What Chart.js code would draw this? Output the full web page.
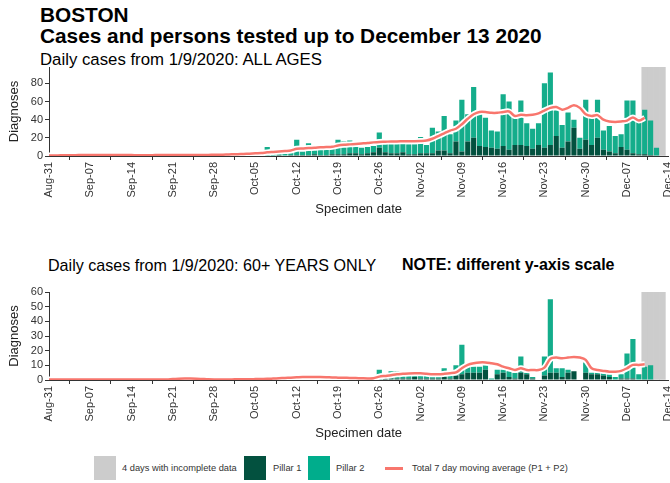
<!DOCTYPE html>
<html>
<head>
<meta charset="utf-8">
<script src="https://cdn.jsdelivr.net/npm/chart.js@4.4.0/dist/chart.umd.min.js"></script>
<style>
  body { margin: 0; width: 670px; height: 483px; overflow: hidden; background: #fff; position: relative;
         font-family: "Liberation Sans", Arial, sans-serif; }
  .t { position: absolute; white-space: nowrap; color: #000; line-height: 1; }
  canvas { position: absolute; left: 0; }
  .sw { position: absolute; }
  .lt { position: absolute; font-size: 9.3px; color: #333; line-height: 1; white-space: nowrap; }
</style>
</head>
<body>
<div class="t" style="left:40px;top:5px;font-size:20.8px;font-weight:bold">BOSTON</div>
<div class="t" style="left:40px;top:25.5px;font-size:20.8px;font-weight:bold">Cases and persons tested up to December 13 2020</div>
<div class="t" style="left:40px;top:51.5px;font-size:16.8px">Daily cases from 1/9/2020: ALL AGES</div>
<canvas id="allAges" width="670" height="158" style="top:62px"></canvas>

<div class="t" style="left:48px;top:256.5px;font-size:16.1px">Daily cases from 1/9/2020: 60+ YEARS ONLY</div>
<div class="t" style="left:402px;top:256.5px;font-size:16px;font-weight:bold">NOTE: different y-axis scale</div>
<canvas id="over60" width="670" height="157" style="top:287px"></canvas>

<div class="sw" style="left:94px;top:456px;width:22px;height:24px;background:#cccccc"></div>
<div class="lt" style="left:122px;top:463.5px">4 days with incomplete data</div>
<div class="sw" style="left:244px;top:456px;width:22px;height:24px;background:#03513f"></div>
<div class="lt" style="left:273px;top:463.5px">Pillar 1</div>
<div class="sw" style="left:308px;top:456px;width:22px;height:24px;background:#00ad8c"></div>
<div class="lt" style="left:336px;top:463.5px">Pillar 2</div>
<div class="sw" style="left:385px;top:467px;width:18px;height:2.5px;background:#f8766d"></div>
<div class="lt" style="left:412px;top:463.5px">Total 7 day moving average (P1 + P2)</div>

<script>
// weekly tick labels on the x axis (one every 7 days from Aug-31)
const tickLabels = ['Aug-31','Sep-07','Sep-14','Sep-21','Sep-28','Oct-05','Oct-12','Oct-19',
                    'Oct-26','Nov-02','Nov-09','Nov-16','Nov-23','Nov-30','Dec-07','Dec-14'];
const incompleteDays = ['Dec-10','Dec-11','Dec-12','Dec-13'];

// ALL AGES, Aug-31 .. Dec-14 (one value per day)
const pillar1All = [
  0,0,0,0,0,0,1,  0,0,0,0,1,0,0,  0,0,0,0,0,0,0,  0,0,1,0,0,0,0,
  0,0,1,0,1,0,0,  0,0,0,0,1,0,1,  1,1,1,2,1,1,2,  2,2,3,3,2,3,4,
  9,4,3,3,4,2,2,  3,3,3,6,6,3,16, 5,16,20,11,10,9,8, 11,7,12,12,11,8,12,
  9,12,22,9,16,31,8, 18,12,20,7,5,3,10, 7,3,2,2,1,0,0, 0];
const pillar2All = [
  1,0,1,1,0,1,1,  1,1,0,1,1,1,1,  1,0,1,1,1,1,1,  1,1,1,1,1,1,1,
  2,1,1,2,2,2,3,  2,3,10,4,4,3,3, 17,4,13,6,6,7,7, 16,14,14,7,7,7,7,
  17,10,11,11,10,11,11, 18,9,28,21,38,21,23, 57,30,56,38,32,19,19, 57,53,30,49,25,22,24,
  71,80,28,25,32,9,12, 44,35,42,21,28,19,14, 54,58,40,49,38,9,0, 0];
const avgAll = [
  0.5,0.6,0.7,0.8,0.9,1,1,  1,1,1,1.1,1.1,1,1,  1,0.9,0.9,0.9,1,1,1,  1,1,1.1,1.1,1.2,1.2,1.2,
  1.3,1.4,1.6,1.8,2,2.3,2.6,  3,3.3,4,4.5,5,5.5,6,  8,8.3,8.8,9,9.5,9.8,10.2,
  11.5,12.3,12.8,13.3,13.8,14.3,15,  15.5,15.7,16,16,16.2,16.3,16.3,  16.5,17,19,22,25,28,30,
  35,41,46,48.5,48.5,47.5,47.5,  48.5,49,44,45.5,45,45.5,47,  50,53,54,51,53,56,53,
  46,44,45,40,38,37.5,38,  39,42.5,39,42,null,null,null, null];

// 60+ YEARS ONLY
const pillar1Old = [
  0,0,0,0,0,0,0,  0,0,0,0,0,0,0,  0,0,0,0,0,0,0,  0,0,0,0,0,0,0,
  0,0,0,0,0,0,0,  0,0,0,1,0,0,1,  1,0,1,1,0,0,0,  0,0,0,1,0,0,0,
  0,1,1,1,1,1,2,  1,1,1,1,2,1,3,  4,5,5,5,7,0,4,  5,2,1,5,4,1,0,
  3,5,5,2,5,6,0,  5,4,4,3,2,0,1,  1,1,0,0,0,0,0, 0];
const pillar2Old = [
  0,0,0,0,0,0,0,  0,0,0,0,0,0,0,  0,0,0,0,0,0,0,  1,1,1,1,1,0,0,
  0,0,0,0,1,0,0,  1,1,1,1,1,2,1,  2,2,1,2,2,1,1,  2,1,1,0,2,1,1,
  7,1,5,5,2,3,2,  3,2,1,4,6,2,7,  20,4,4,4,3,1,3,  2,4,4,11,1,1,0,
  13,50,3,6,2,0,0,  7,1,1,2,2,2,3,  17,27,4,9,10,0,0, 0];
const avgOld = [
  0.3,0.3,0.3,0.3,0.3,0.3,0.3,  0.3,0.3,0.3,0.3,0.3,0.3,0.3,  0.3,0.3,0.3,0.3,0.3,0.3,0.3,
  0.7,0.9,1,1,0.9,0.7,0.5,  0.4,0.4,0.4,0.4,0.5,0.5,0.5,  0.6,0.7,0.8,1,1.2,1.4,1.6,
  1.8,2,2,2,2,1.9,1.7,  1.6,1.5,1.4,1.3,1.2,1.1,1.2,  2.3,2.8,3.3,3.9,4.2,4.5,4.6,
  4.6,4.3,3.9,3.9,4.2,4.6,5.2,  8,10.3,11.4,12,12,11.4,10.7,  9.1,8,6.8,8,6.8,6.8,6.8,
  8.4,14.4,15.3,14.8,15.3,15.7,15.3,  13.7,8,6.8,6.2,5.7,5.7,6.2,  8,10.3,10.3,10.7,null,null,null, null];

// day labels Aug-31 .. Dec-14
const months = ['Jan','Feb','Mar','Apr','May','Jun','Jul','Aug','Sep','Oct','Nov','Dec'];
const dayLabels = [];
for (let i = 0; i < pillar1All.length; i++) {
  const d = new Date(2020, 7, 31 + i);
  dayLabels.push(months[d.getMonth()] + '-' + String(d.getDate()).padStart(2, '0'));
}

Chart.defaults.font.family = '"Liberation Sans", Arial, sans-serif';
Chart.defaults.color = '#333';

function makeChart(id, p1, p2, avg, yMax, yStep) {
  const grey = dayLabels.map(l => incompleteDays.includes(l) ? yMax : null);
  return new Chart(document.getElementById(id), {
    data: {
      labels: dayLabels,
      datasets: [
        { type: 'line', data: avg, borderColor: '#f8766d', borderWidth: 2.5, pointRadius: 0,
          tension: 0.3, stack: 'avg', order: 0 },
        { type: 'line', data: avg, borderColor: '#ffffff', borderWidth: 6, pointRadius: 0,
          tension: 0.3, stack: 'halo', order: 1 },
        { type: 'bar', data: p1, backgroundColor: '#03513f', stack: 'cases', grouped: false,
          barPercentage: 0.88, categoryPercentage: 1, order: 2 },
        { type: 'bar', data: p2, backgroundColor: '#14ad8b', stack: 'cases', grouped: false,
          barPercentage: 0.88, categoryPercentage: 1, order: 2 },
        { type: 'bar', data: grey, backgroundColor: '#cccccc', stack: 'grey', grouped: false,
          barPercentage: 1, categoryPercentage: 1, order: 3 }
      ]
    },
    options: {
      responsive: false,
      animation: false,
      events: [],
      layout: { padding: { top: 5, right: 1.7, left: 0, bottom: 0 } },
      plugins: { legend: { display: false }, tooltip: { enabled: false } },
      scales: {
        x: {
          offset: false,
          stacked: true,
          grid: { drawOnChartArea: false, drawTicks: true, tickLength: 4, color: '#333' },
          border: { color: '#333', width: 1 },
          ticks: {
            autoSkip: false, minRotation: 90, maxRotation: 90, padding: 2,
            font: { size: 11 }, color: '#333',
            callback: (v, i) => tickLabels[v / 7]
          },
          title: { display: true, text: 'Specimen date', font: { size: 13 }, color: '#222',
                   padding: { top: 0, bottom: 3 } },
          afterBuildTicks: s => { s.ticks = s.ticks.filter(t => t.value % 7 === 0); },
          afterFit: s => { s.height = 64; s.paddingLeft = 0; s.paddingRight = 0; }
        },
        y: {
          stacked: true,
          min: 0, max: yMax,
          grid: { drawOnChartArea: false, drawTicks: true, tickLength: 4, color: '#333' },
          border: { color: '#333', width: 1 },
          ticks: { stepSize: yStep, autoSkip: false, padding: 2, font: { size: 11 }, color: '#333' },
          title: { display: true, text: 'Diagnoses', font: { size: 13 }, color: '#222',
                   padding: { top: 7, bottom: 0 } },
          afterBuildTicks: s => { s.ticks = s.ticks.filter(t => t.value % yStep === 0); },
          afterFit: s => { s.width = 49; s.paddingTop = 0; s.paddingBottom = 0; }
        }
      }
    }
  });
}

makeChart('allAges', pillar1All, pillar2All, avgAll, 98, 20);
makeChart('over60', pillar1Old, pillar2Old, avgOld, 60, 10);
</script>
</body>
</html>
